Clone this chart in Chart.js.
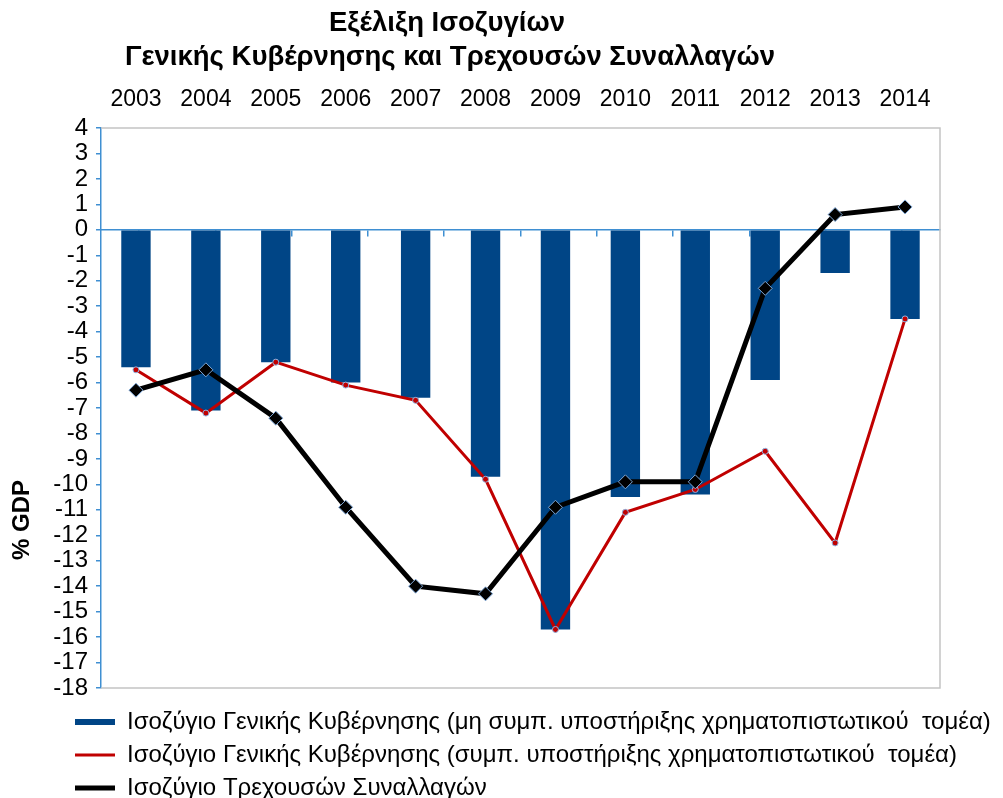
<!DOCTYPE html>
<html>
<head>
<meta charset="utf-8">
<script src="https://cdn.jsdelivr.net/npm/chart.js@4.4.1/dist/chart.umd.min.js"></script>
<style>
    html, body { margin: 0; padding: 0; background: #fff; }
    #wrap { width: 1003px; height: 798px; }
</style>
</head>
<body>
<div id="wrap"><canvas id="chart"></canvas></div>
<script>
// Data (% of GDP)
const years = ['2003', '2004', '2005', '2006', '2007', '2008', '2009', '2010', '2011', '2012', '2013', '2014'];
const govBalanceExclSupport = [-5.4, -7.1, -5.2, -6.0, -6.6, -9.7, -15.7, -10.5, -10.4, -5.9, -1.7, -3.5];
const govBalanceInclSupport = [-5.5, -7.2, -5.2, -6.1, -6.7, -9.8, -15.7, -11.1, -10.2, -8.7, -12.3, -3.5];
const currentAccount = [-6.3, -5.5, -7.4, -10.9, -14.0, -14.3, -10.9, -9.9, -9.9, -2.3, 0.6, 0.9];
const seriesNames = [
    'Ισοζύγιο Γενικής Κυβέρνησης (μη συμπ. υποστήριξης χρηματοπιστωτικού  τομέα)',
    'Ισοζύγιο Γενικής Κυβέρνησης (συμπ. υποστήριξης χρηματοπιστωτικού  τομέα)',
    'Ισοζύγιο Τρεχουσών Συναλλαγών'
];
const titleLines = ['Εξέλιξη Ισοζυγίων', 'Γενικής Κυβέρνησης και Τρεχουσών Συναλλαγών'];
const yAxisTitle = '% GDP';

const BLUE_BAR = '#004586';
const RED = '#c00000';
const AXIS_BLUE = '#3f8fd2';
const FRAME_GREY = '#c4c4c4';
const legendLineWidths = [6, 3, 5];
const legendColors = [BLUE_BAR, RED, '#000'];

Chart.defaults.font.family = '"Liberation Sans", Arial, sans-serif';
Chart.defaults.color = '#000';

// grey frame on top, right and bottom of the plot area
const plotFrame = {
    id: 'plotFrame',
    beforeDatasetsDraw(chart) {
        const { ctx, chartArea: a } = chart;
        ctx.save();
        ctx.strokeStyle = FRAME_GREY;
        ctx.lineWidth = 1.5;
        ctx.beginPath();
        ctx.moveTo(a.left, a.top);
        ctx.lineTo(a.right, a.top);
        ctx.lineTo(a.right, a.bottom);
        ctx.lineTo(a.left, a.bottom);
        ctx.stroke();
        ctx.restore();
    }
};

// the legend sits further in than the y tick labels and runs to the edges
const legendIndent = {
    id: 'legendIndent',
    afterLayout(chart) {
        const lg = chart.legend;
        lg.left = 66;
        lg.right = chart.width;
        lg.width = chart.width - 66;
        lg.bottom = chart.height + 20;
        lg.height = lg.bottom - lg.top;
    }
};

// chart title and rotated y title, placed like the original
const extraText = {
    id: 'extraText',
    afterDraw(chart) {
        const ctx = chart.ctx;
        ctx.save();
        ctx.fillStyle = '#000';
        ctx.textAlign = 'center';
        ctx.textBaseline = 'middle';
        ctx.font = 'bold 27.5px "Liberation Sans", Arial, sans-serif';
        ctx.fillText(titleLines[0], 447, 23);
        ctx.fillText(titleLines[1], 450, 57);
        ctx.font = 'bold 24px "Liberation Sans", Arial, sans-serif';
        ctx.translate(22, 520);
        ctx.rotate(-Math.PI / 2);
        ctx.fillText(yAxisTitle, 0, 0);
        ctx.restore();
    }
};

new Chart(document.getElementById('chart'), {
    data: {
        labels: years,
        datasets: [
            {
                type: 'bar',
                label: seriesNames[0],
                data: govBalanceExclSupport,
                backgroundColor: BLUE_BAR,
                borderColor: BLUE_BAR,
                borderWidth: 0,
                categoryPercentage: 1,
                barPercentage: 0.42,
                order: 3
            },
            {
                type: 'line',
                label: seriesNames[1],
                data: govBalanceInclSupport,
                borderColor: RED,
                backgroundColor: RED,
                borderWidth: 3,
                tension: 0,
                pointRadius: 3,
                pointBackgroundColor: RED,
                pointBorderColor: '#8fb4e3',
                pointBorderWidth: 1,
                order: 2
            },
            {
                type: 'line',
                label: seriesNames[2],
                data: currentAccount,
                borderColor: '#000',
                backgroundColor: '#000',
                borderWidth: 5,
                tension: 0,
                pointStyle: 'rectRot',
                pointRadius: 7,
                pointBackgroundColor: '#000',
                pointBorderColor: '#7fa8d8',
                pointBorderWidth: 1,
                order: 1
            }
        ]
    },
    options: {
        responsive: true,
        maintainAspectRatio: false,
        animation: false,
        layout: { padding: { left: 30, right: 63, top: 80, bottom: 0 } },
        scales: {
            x: {
                type: 'category',
                position: 'top',
                grid: { display: false, drawTicks: false },
                border: { display: false },
                ticks: { font: { size: 23 }, padding: 15, maxRotation: 0 },
                afterFit: (s) => { s.height = 48; }
            },
            xZero: {
                type: 'category',
                axis: 'x',
                labels: years,
                position: { y: 0 },
                grid: { display: true, drawOnChartArea: false, offset: true, tickLength: 6, color: AXIS_BLUE, lineWidth: 1.5 },
                border: { color: AXIS_BLUE, width: 1.5 },
                ticks: { display: false }
            },
            xBottom: {
                type: 'category',
                axis: 'x',
                labels: years,
                position: 'bottom',
                grid: { display: false, drawTicks: false },
                border: { display: false },
                ticks: { display: false },
                afterFit: (s) => { s.height = 13; }
            },
            y: {
                min: -18,
                max: 4,
                ticks: { stepSize: 1, autoSkip: false, font: { size: 24 }, padding: 8 },
                grid: { display: true, drawOnChartArea: false, tickLength: 5, color: AXIS_BLUE, lineWidth: 1.5 },
                border: { color: AXIS_BLUE, width: 1.5 },
                afterFit: (s) => { s.width = 71; }
            }
        },
        plugins: {
            title: { display: false },
            tooltip: { enabled: false },
            legend: {
                position: 'bottom',
                align: 'start',
                maxHeight: 97,
                labels: {
                    font: { size: 24 },
                    color: '#000',
                    padding: 9,
                    usePointStyle: true,
                    pointStyleWidth: 40,
                    boxWidth: 40,
                    sort: (a, b) => a.datasetIndex - b.datasetIndex,
                    generateLabels: (chart) => Chart.defaults.plugins.legend.labels.generateLabels(chart).map((item) => ({
                        ...item,
                        pointStyle: 'line',
                        lineWidth: legendLineWidths[item.datasetIndex],
                        strokeStyle: legendColors[item.datasetIndex]
                    }))
                }
            }
        }
    },
    plugins: [plotFrame, legendIndent, extraText]
});
</script>
</body>
</html>
